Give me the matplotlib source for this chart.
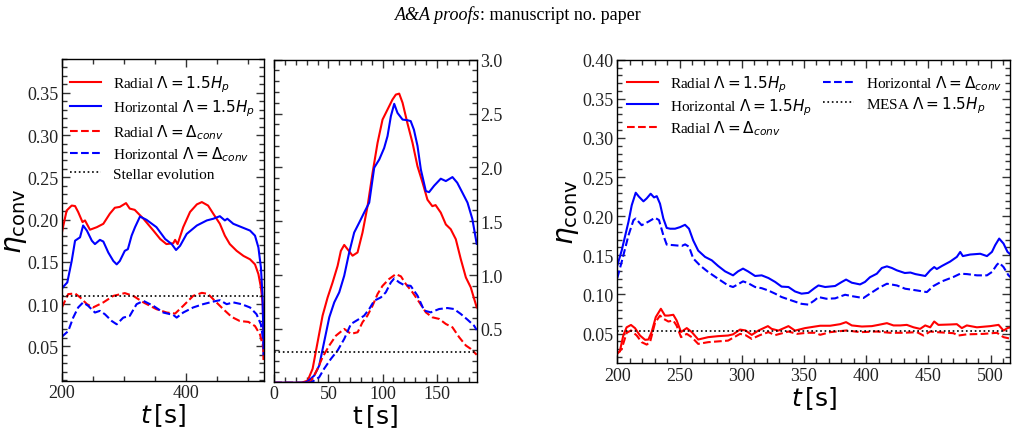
import matplotlib
matplotlib.use("Agg")
import matplotlib.pyplot as plt
from matplotlib.ticker import MultipleLocator

plt.rcParams['font.family'] = 'serif'
plt.rcParams['font.serif'] = ['Liberation Serif', 'DejaVu Serif']
plt.rcParams['mathtext.fontset'] = 'dejavusans'

# ---------------- Left panel data ----------------
L_rad_t = [200, 201, 207.5, 215.6, 221, 226, 233, 237, 245, 256, 266.5, 277, 285, 293, 303, 309, 317, 331,
           347, 358, 368, 379, 382, 386, 395, 406, 417, 425, 435, 443.5, 454, 462, 470, 481, 492, 502.5,
           510.5, 516, 520, 523, 524, 524.5]
L_rad_v = [0.185, 0.189, 0.2107, 0.2166, 0.216, 0.209, 0.197, 0.199, 0.188, 0.191, 0.195, 0.207, 0.214, 0.215,
           0.2195, 0.213, 0.2115, 0.201, 0.187, 0.177, 0.171, 0.172, 0.176, 0.171, 0.191, 0.209, 0.218, 0.2207,
           0.2166, 0.2068, 0.195, 0.181, 0.171, 0.163, 0.157, 0.153, 0.147, 0.1355, 0.12, 0.10, 0.064, 0.035]
L_hor_t = [200, 201, 208.5, 215.6, 221, 229, 234, 240, 248, 253, 261, 266.5, 274.5, 282.6, 288, 293, 301, 306,
           312, 317.5, 325.5, 336, 352, 366, 376.5, 383.5, 390, 400.6, 417, 433, 443.5, 454, 462, 466, 475.6,
           489, 502.5, 510.5, 516, 520, 522.5, 524, 524.5]
L_hor_v = [0.118, 0.1197, 0.1256, 0.151, 0.175, 0.179, 0.193, 0.187, 0.175, 0.171, 0.176, 0.174, 0.161, 0.151,
           0.147, 0.151, 0.163, 0.165, 0.181, 0.191, 0.2036, 0.1997, 0.191, 0.177, 0.171, 0.164, 0.169, 0.183,
           0.193, 0.199, 0.201, 0.204, 0.199, 0.201, 0.195, 0.191, 0.187, 0.181, 0.167, 0.1435, 0.112, 0.064,
           0.04]
L_radD_t = [200, 201, 210, 221, 229, 240, 250, 266.5, 282.6, 301, 314.7, 331, 352, 368.5, 382, 395, 411, 425,
            435, 446, 459.5, 473, 486, 500, 510.5, 518.6, 524, 524.5]
L_radD_v = [0.096, 0.0979, 0.1118, 0.1126, 0.108, 0.100, 0.096, 0.102, 0.1097, 0.113, 0.1097, 0.102, 0.094,
            0.090, 0.0888, 0.0979, 0.1097, 0.1133, 0.112, 0.1038, 0.094, 0.0848, 0.080, 0.0789, 0.074, 0.064,
            0.048, 0.034]
L_horD_t = [200, 201, 210, 218, 226, 234, 242, 253, 261, 269, 280, 288, 298.6, 309, 320, 331, 347, 363, 379,
            384.5, 395, 411, 427, 443.5, 454, 465, 475.6, 489, 502.5, 513, 520, 524, 524.5]
L_horD_v = [0.061, 0.0622, 0.068, 0.084, 0.096, 0.102, 0.098, 0.090, 0.092, 0.088, 0.080, 0.0761, 0.084, 0.086,
            0.0999, 0.1038, 0.0979, 0.090, 0.0872, 0.084, 0.090, 0.096, 0.0999, 0.103, 0.1046, 0.0999, 0.102,
            0.0999, 0.096, 0.088, 0.076, 0.0563, 0.04]
L_stellar = 0.109

# ---------------- Middle panel data ----------------
M_rad_t = [0, 25, 30.8, 35.4, 40, 44.6, 49.2, 53.8, 58.5, 61.5, 64.6, 67.7, 72.3, 76.9, 81.5, 86.2, 90.8, 95.4,
           100, 104.6, 109.2, 112.3, 115.4, 118.5, 123, 127.7, 132.3, 137, 141.5, 146, 149, 153.8, 158.5, 163,
           167.7, 172.3, 177, 181.5, 187]
M_rad_v = [0.0, 0.0, 0.02, 0.13, 0.377, 0.623, 0.79, 0.93, 1.086, 1.225, 1.28, 1.24, 1.18, 1.21, 1.395, 1.642,
           1.95, 2.228, 2.444, 2.537, 2.63, 2.676, 2.685, 2.60, 2.41, 2.228, 2.01, 1.858, 1.70, 1.64, 1.65, 1.58,
           1.47, 1.426, 1.333, 1.148, 0.978, 0.886, 0.70]
M_hor_t = [0, 28, 30.8, 37, 41.5, 46, 50.8, 55.4, 60, 64.6, 69.2, 73.8, 78.5, 83, 87.7, 92.3, 97, 101.5, 104.6,
           107.7, 110.8, 113.8, 118.5, 123, 126, 129, 132.3, 135.4, 140, 143, 147.7, 153.8, 158.5, 164.6, 169,
           173.8, 178.5, 183, 187]
M_hor_v = [0.0, 0.0, 0.012, 0.068, 0.16, 0.377, 0.608, 0.747, 0.84, 0.994, 1.21, 1.395, 1.488, 1.58, 1.673,
           1.997, 2.074, 2.18, 2.29, 2.475, 2.59, 2.506, 2.444, 2.438, 2.43, 2.35, 2.2, 1.98, 1.78, 1.77, 1.83,
           1.895, 1.873, 1.91, 1.858, 1.765, 1.673, 1.52, 1.29]
M_radD_t = [0, 30, 33.8, 40, 44.6, 50.8, 57, 64.6, 70.8, 77, 81.5, 86, 90.8, 95.4, 100, 106, 112.3, 117, 121.5,
            127.7, 134, 140, 146, 152.3, 158.5, 164.6, 170.8, 177, 181.5, 187]
M_radD_v = [0.0, 0.0, 0.012, 0.13, 0.238, 0.346, 0.438, 0.50, 0.454, 0.469, 0.562, 0.623, 0.716, 0.824, 0.90,
            0.963, 1.009, 0.988, 0.917, 0.84, 0.747, 0.654, 0.608, 0.593, 0.546, 0.515, 0.423, 0.346, 0.315, 0.26]
M_horD_t = [0, 33, 35.4, 41.5, 46, 52.3, 58.5, 64.6, 70.8, 78.5, 83, 87.7, 92.3, 98.5, 103, 107.7, 110.8, 115.4,
            120, 126, 132.3, 138.5, 144.6, 152.3, 160, 166, 172.3, 178.5, 184.6, 187]
M_horD_v = [0.0, 0.0, 0.012, 0.052, 0.13, 0.222, 0.30, 0.407, 0.546, 0.593, 0.623, 0.685, 0.762, 0.793, 0.84,
            0.932, 0.969, 0.932, 0.907, 0.90, 0.809, 0.67, 0.654, 0.685, 0.694, 0.685, 0.639, 0.586, 0.53, 0.49]
M_stellar = 0.29

# ---------------- Right panel data ----------------
R_hor_t = [200, 203.5, 209, 211.6, 214.8, 217.4, 221, 223.6, 226.8, 229.5, 231.7, 234.3, 237, 239.7, 242.4,
           246.4, 250.4, 254.4, 257.6, 261, 265, 270.5, 275.9, 281, 286.6, 293, 297, 301, 305, 310.7, 316, 321.4,
           326.8, 332, 337.5, 342.8, 348, 353.5, 358.4, 361.6, 367, 375, 380.4, 383.8, 388.4, 395, 399, 403, 408.5,
           412.5, 416.6, 420.6, 424.6, 431, 435.5, 439.5, 447.4, 451.4, 454.6, 456.7, 460.8, 467.4, 472.8, 475.5,
           477.6, 483.5, 491.6, 497, 501, 503.6, 506.8, 510.3, 513.5, 516]
R_hor_v = [0.137, 0.156, 0.193, 0.214, 0.230, 0.2249, 0.219, 0.2227, 0.2287, 0.224, 0.2256, 0.216, 0.197,
           0.185, 0.184, 0.184, 0.186, 0.189, 0.184, 0.169, 0.156, 0.148, 0.1436, 0.1364, 0.1295, 0.1244, 0.1295,
           0.133, 0.1295, 0.1236, 0.1244, 0.121, 0.116, 0.110, 0.1095, 0.1038, 0.101, 0.102, 0.108, 0.1115,
           0.1095, 0.1108, 0.116, 0.119, 0.115, 0.1128, 0.116, 0.122, 0.1265, 0.1338, 0.1359, 0.1338, 0.1308,
           0.1274, 0.128, 0.126, 0.1236, 0.1308, 0.135, 0.1325, 0.1364, 0.142, 0.148, 0.1543, 0.149, 0.151,
           0.152, 0.149, 0.1544, 0.163, 0.1714, 0.165, 0.1544, 0.151]
R_horD_t = [200, 203.5, 209, 213, 214.8, 219.6, 225, 230.3, 233.5, 237, 239.7, 245, 251.8, 254.5, 257.6, 261,
            266.5, 273, 281, 289, 293, 297, 301, 305, 310.7, 316, 321.4, 326.8, 332, 340, 348, 353.5, 358.4,
            361.6, 368, 375, 383, 389.7, 397.7, 403, 409.8, 416.6, 424.6, 431.3, 440.7, 448.7, 454, 460.8, 470,
            475.5, 481, 489, 497, 501, 505, 506.8, 510.3, 514.3, 516]
R_horD_v = [0.121, 0.1415, 0.1756, 0.195, 0.197, 0.1885, 0.193, 0.198, 0.195, 0.1756, 0.1637, 0.163, 0.162,
            0.164, 0.161, 0.146, 0.137, 0.1287, 0.120, 0.1115, 0.1095, 0.113, 0.1167, 0.1145, 0.1095, 0.108,
            0.105, 0.101, 0.0967, 0.0923, 0.088, 0.087, 0.0923, 0.0967, 0.0945, 0.095, 0.0996, 0.0975, 0.0954,
            0.101, 0.108, 0.1137, 0.1115, 0.1073, 0.1051, 0.103, 0.1108, 0.1167, 0.1223, 0.1265, 0.126, 0.1244,
            0.1244, 0.1287, 0.138, 0.1406, 0.135, 0.1244, 0.122]
R_rad_t = [200, 202, 204.8, 207.5, 211, 214.2, 218.2, 222.3, 225, 227.6, 230.9, 235, 238.3, 241, 245, 247.7,
           251.2, 255.8, 259.8, 265, 273, 281, 289, 293, 298.6, 303, 308, 313.3, 321, 324, 329.4, 337.5, 342.8,
           350.9, 358.9, 363, 371, 379, 383.8, 388.4, 396.5, 404.5, 409.8, 416.6, 421.9, 427.3, 432.6, 438,
           443.3, 447.4, 451.4, 454.6, 458, 467.4, 472.8, 476.8, 480.8, 488.9, 499.6, 506.3, 510.3, 513.5, 516]
R_rad_v = [0.026, 0.027, 0.0475, 0.058, 0.061, 0.057, 0.0475, 0.042, 0.0424, 0.052, 0.071, 0.0817, 0.073,
           0.073, 0.074, 0.0667, 0.052, 0.057, 0.052, 0.0424, 0.0454, 0.0467, 0.0475, 0.049, 0.0551, 0.054,
           0.0483, 0.0538, 0.0595, 0.056, 0.0538, 0.0595, 0.0538, 0.057, 0.059, 0.060, 0.060, 0.062, 0.0646,
           0.0604, 0.059, 0.0595, 0.0611, 0.0633, 0.0604, 0.0604, 0.0611, 0.058, 0.056, 0.0604, 0.058, 0.0654,
           0.0611, 0.0616, 0.062, 0.057, 0.0604, 0.058, 0.0595, 0.0611, 0.0538, 0.057, 0.058]
R_radD_t = [200, 203.5, 207.5, 211, 215.6, 219.6, 223.6, 226.3, 230.3, 234.3, 237, 241, 245, 247.7, 251.2,
            255.8, 259.8, 265, 273, 281, 289, 298.6, 303, 308, 314.6, 321.4, 326.8, 337.5, 344.2, 352.3, 359,
            363, 371, 384.4, 395, 408.5, 419.2, 430, 440.7, 446, 451.4, 456.7, 470, 474, 480.8, 494.2, 505,
            510.3, 514.3, 516]
R_radD_v = [0.024, 0.0304, 0.0509, 0.054, 0.0475, 0.039, 0.0359, 0.039, 0.0637, 0.073, 0.069, 0.0654, 0.0667,
            0.060, 0.0454, 0.0496, 0.0454, 0.0368, 0.039, 0.040, 0.041, 0.0496, 0.048, 0.0432, 0.048, 0.0518,
            0.048, 0.0526, 0.0496, 0.051, 0.051, 0.0484, 0.0518, 0.054, 0.0518, 0.0526, 0.051, 0.051, 0.0518,
            0.0475, 0.0526, 0.0518, 0.0505, 0.0475, 0.049, 0.0496, 0.051, 0.0454, 0.044, 0.044]
R_mesa = 0.0535

W, H = 1017, 431
fig = plt.figure(figsize=(W / 100, H / 100), dpi=100)

def frac(x0, x1, y0, y1):
    return [x0 / W, 1 - y1 / H, (x1 - x0) / W, (y1 - y0) / H]

axL = fig.add_axes(frac(62, 264, 60, 382))
axM = fig.add_axes(frac(274.3, 476.7, 60.7, 382.7))
axR = fig.add_axes(frac(617.3, 1010, 60.7, 364.3))

LW = 1.5
lab_rad = r'Radial $\Lambda = 1.5H_p$'
lab_hor = r'Horizontal $\Lambda = 1.5H_p$'
lab_radD = r'Radial $\Lambda = \Delta_{conv}$'
lab_horD = r'Horizontal $\Lambda = \Delta_{conv}$'

# Left
axL.plot(L_rad_t, L_rad_v, color='red', lw=LW, label=lab_rad)
axL.plot(L_hor_t, L_hor_v, color='blue', lw=LW, label=lab_hor)
axL.plot(L_radD_t, L_radD_v, color='red', lw=LW, ls='--', label=lab_radD)
axL.plot(L_horD_t, L_horD_v, color='blue', lw=LW, ls='--', label=lab_horD)
axL.axhline(L_stellar, color='black', lw=1.2, ls=':', label='Stellar evolution')
axL.set_xlim(200, 525)
axL.set_ylim(0.009, 0.39)
axL.xaxis.set_major_locator(MultipleLocator(200))
axL.xaxis.set_minor_locator(MultipleLocator(50))
axL.yaxis.set_major_locator(MultipleLocator(0.05))
axL.yaxis.set_minor_locator(MultipleLocator(0.01))
axL.set_xlabel(r'$t\,[\mathrm{s}]$', fontsize=18, labelpad=0)
axL.set_ylabel(r'$\eta_{\rm conv}$', fontsize=20, labelpad=-1)
axL.legend(loc='upper left', frameon=False, fontsize=11, handlelength=2.0,
           borderaxespad=0.0, bbox_to_anchor=(0.01, 0.975), labelspacing=0.25)

# Middle
axM.plot(M_rad_t, M_rad_v, color='red', lw=LW)
axM.plot(M_hor_t, M_hor_v, color='blue', lw=LW)
axM.plot(M_radD_t, M_radD_v, color='red', lw=LW, ls='--')
axM.plot(M_horD_t, M_horD_v, color='blue', lw=LW, ls='--')
axM.axhline(M_stellar, color='black', lw=1.2, ls=':')
axM.set_xlim(0, 187)
axM.set_ylim(0.01, 3.0)
axM.xaxis.set_major_locator(MultipleLocator(50))
axM.xaxis.set_minor_locator(MultipleLocator(10))
axM.yaxis.set_major_locator(MultipleLocator(0.5))
axM.yaxis.set_minor_locator(MultipleLocator(0.1))
axM.set_xlabel(r'$\mathrm{t}\,[\mathrm{s}]$', fontsize=18, labelpad=0)

# Right
axR.plot(R_rad_t, R_rad_v, color='red', lw=LW, label=lab_rad)
axR.plot(R_hor_t, R_hor_v, color='blue', lw=LW, label=lab_hor)
axR.plot(R_radD_t, R_radD_v, color='red', lw=LW, ls='--', label=lab_radD)
axR.plot(R_horD_t, R_horD_v, color='blue', lw=LW, ls='--', label=lab_horD)
axR.axhline(R_mesa, color='black', lw=1.2, ls=':', label=r'MESA $\Lambda = 1.5H_p$')
axR.set_xlim(200, 515.5)
axR.set_ylim(0.012, 0.40)
axR.xaxis.set_major_locator(MultipleLocator(50))
axR.xaxis.set_minor_locator(MultipleLocator(10))
axR.yaxis.set_major_locator(MultipleLocator(0.05))
axR.yaxis.set_minor_locator(MultipleLocator(0.01))
axR.set_xlabel(r'$t\,[\mathrm{s}]$', fontsize=18, labelpad=0)
axR.set_ylabel(r'$\eta_{\rm conv}$', fontsize=20, labelpad=1)
axR.legend(loc='upper left', frameon=False, fontsize=11, ncol=2, handlelength=2.0,
           borderaxespad=0.0, bbox_to_anchor=(0.01, 0.975), labelspacing=0.12, columnspacing=0.7)

for ax in (axL, axM, axR):
    ax.tick_params(which='both', direction='in', top=True, right=True, labelsize=13, pad=2.5,
                   width=1, colors='#333333', labelcolor='#222222')
    ax.tick_params(which='major', length=6)
    ax.tick_params(which='minor', length=3.5)
    for s in ax.spines.values():
        s.set_linewidth(1.0)
        s.set_color('black')

axM.tick_params(which='both', left=True, right=True, labelleft=False, labelright=True)

t1 = fig.text(395 / W, 1 - 24 / H, 'A&A proofs', fontsize=13, style='italic', va='bottom', ha='left')
fig.canvas.draw()
bb = t1.get_window_extent()
fig.text(bb.x1 / W, 1 - 24 / H, ': manuscript no. paper', fontsize=13, va='bottom', ha='left')

fig.savefig('out.png', dpi=100)
